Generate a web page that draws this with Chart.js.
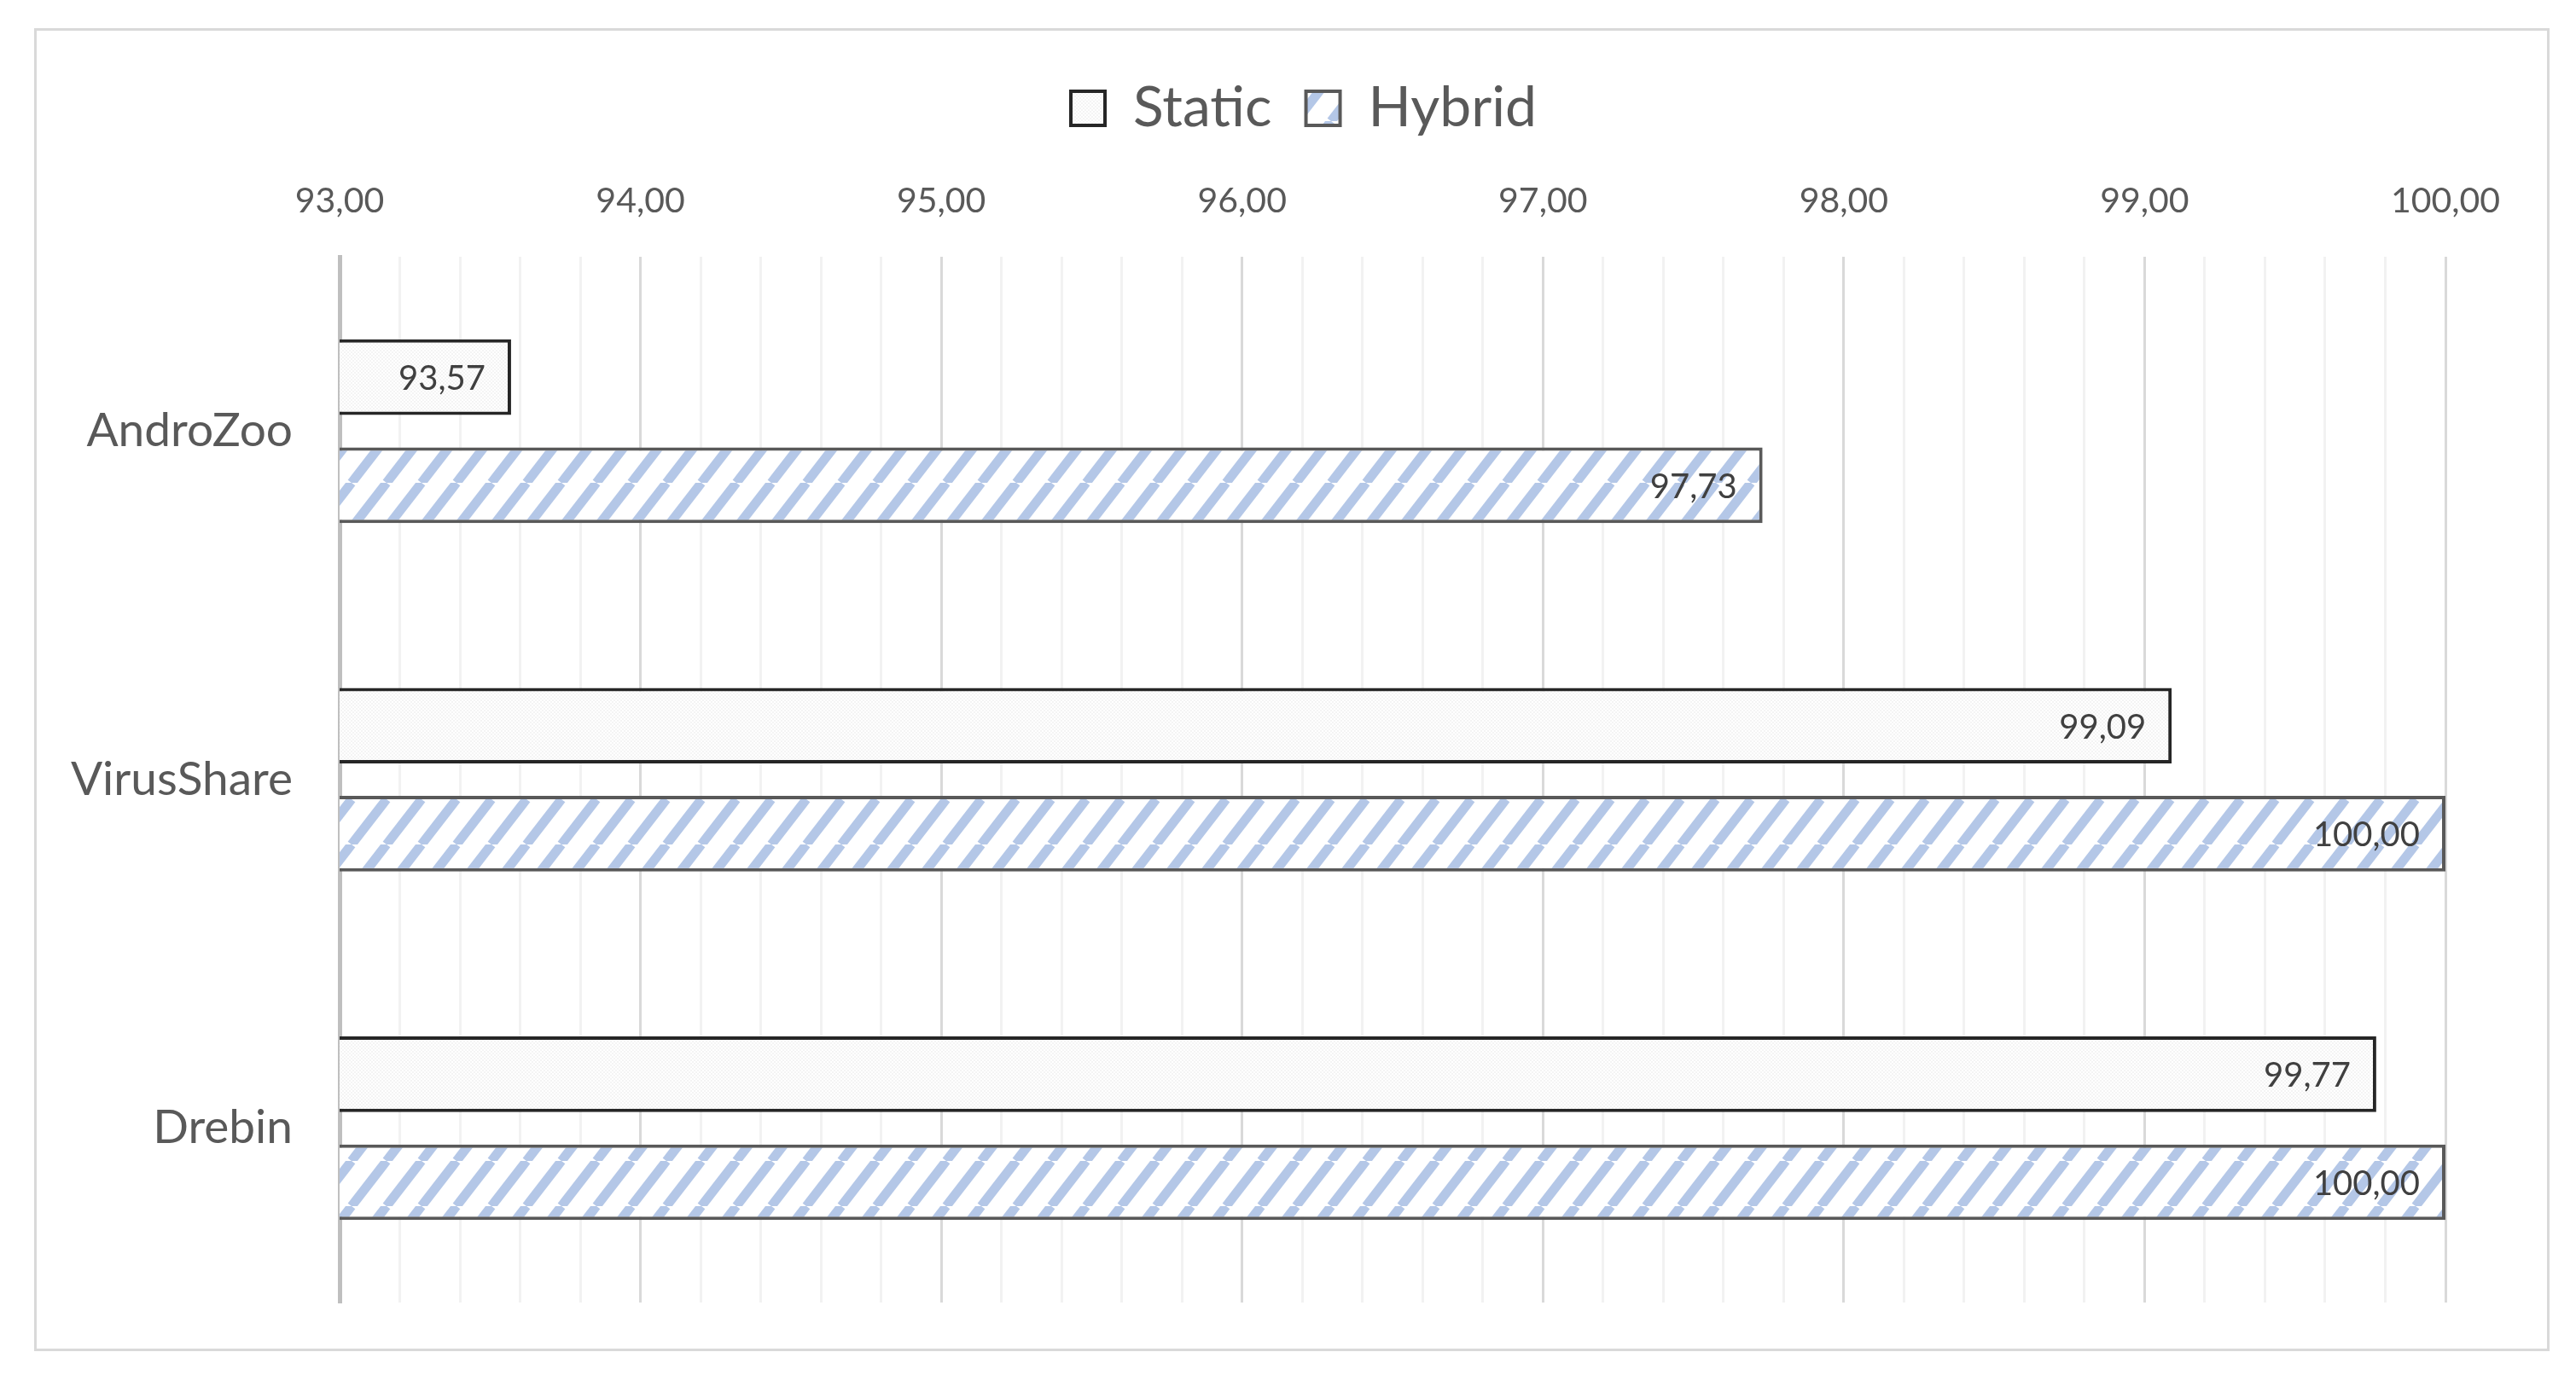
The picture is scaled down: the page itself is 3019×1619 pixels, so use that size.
<!DOCTYPE html>
<html>
<head>
<meta charset="utf-8">
<script src="https://cdn.jsdelivr.net/npm/chart.js@4"></script>
<style>
  html, body { margin: 0; padding: 0; background: #fff; }
  #frame {
    position: absolute;
    left: 40px; top: 33px;
    width: 2948px; height: 1551px;
    border: 3px solid #d9d9d9;
    box-sizing: border-box;
  }
</style>
</head>
<body>
<div id="frame"><canvas id="chart" width="2942" height="1545"></canvas></div>
<script>
const categories = ['AndroZoo', 'VirusShare', 'Drebin'];
const staticValues = [93.57, 99.09, 99.77];
const hybridValues = [97.73, 100.00, 100.00];
const axisMin = 93;
const axisMax = 100;

const fmt = v => v.toFixed(2).replace('.', ',');

const ctx = document.getElementById('chart');
const g = ctx.getContext('2d');

// light dotted fill for Static
function dots() {
  const c = document.createElement('canvas');
  c.width = 4; c.height = 4;
  const t = c.getContext('2d');
  t.fillStyle = '#ffffff';
  t.fillRect(0, 0, 4, 4);
  t.fillStyle = '#f4f4f4';
  t.fillRect(0, 0, 2, 2);
  t.fillRect(2, 2, 2, 2);
  return g.createPattern(c, 'repeat');
}

// upward diagonal stripes for Hybrid
function stripes() {
  const w = 41, h = 53;
  const c = document.createElement('canvas');
  c.width = w; c.height = h;
  const t = c.getContext('2d');
  t.fillStyle = '#ffffff';
  t.fillRect(0, 0, w, h);
  t.strokeStyle = '#b4c7e7';
  t.lineWidth = 11;
  for (const dx of [-w, 0, w]) {
    t.beginPath();
    t.moveTo(dx, h);
    t.lineTo(dx + w, 0);
    t.stroke();
  }
  return g.createPattern(c, 'repeat');
}

const isMajor = v => Math.abs(v - Math.round(v)) < 1e-6;

const barLabels = {
  id: 'barLabels',
  afterDatasetsDraw(chart) {
    const c = chart.ctx;
    c.save();
    c.font = '40px Lato';
    c.fillStyle = '#404040';
    c.textAlign = 'right';
    c.textBaseline = 'middle';
    chart.data.datasets.forEach((ds, i) => {
      chart.getDatasetMeta(i).data.forEach((bar, j) => {
        c.fillText(fmt(ds.data[j]), bar.x - 30, bar.y + 2);
      });
    });
    c.restore();
  }
};

// nudge the legend a little to the right, like the original
const legendShift = {
  id: 'legendShift',
  afterLayout(chart) {
    chart.legend.left += 14;
    chart.legend.right += 14;
  }
};

Chart.defaults.font.family = 'Lato';
Chart.defaults.color = '#595959';

new Chart(ctx, {
  type: 'bar',
  data: {
    labels: categories,
    datasets: [{
      label: 'Static',
      data: staticValues,
      backgroundColor: dots(),
      borderColor: '#262626',
      borderWidth: 4,
      categoryPercentage: 0.62,
      barPercentage: 0.7
    }, {
      label: 'Hybrid',
      data: hybridValues,
      backgroundColor: stripes(),
      borderColor: '#595959',
      borderWidth: 4,
      categoryPercentage: 0.62,
      barPercentage: 0.7
    }]
  },
  options: {
    indexAxis: 'y',
    responsive: false,
    animation: false,
    layout: {
      padding: { top: 18, right: 0, bottom: 54, left: 0 }
    },
    scales: {
      x: {
        position: 'top',
        min: axisMin,
        max: axisMax,
        ticks: {
          stepSize: 0.2,
          autoSkip: false,
          maxRotation: 0,
          padding: 41,
          font: { size: 41 },
          color: '#595959',
          callback: v => isMajor(v) ? fmt(v) : ''
        },
        grid: {
          drawTicks: false,
          lineWidth: 3,
          color: c => isMajor(c.tick.value) ? '#d9d9d9' : '#f2f2f2'
        },
        border: { display: false },
        afterFit: scale => { scale.paddingRight = 119; }
      },
      y: {
        grid: { display: false, drawTicks: false },
        border: { color: '#bfbfbf', width: 5 },
        ticks: {
          padding: 55,
          font: { size: 55 },
          color: '#595959'
        },
        afterFit: scale => {
          scale.width = 355;
          scale.paddingTop = 0;
          scale.paddingBottom = 0;
        }
      }
    },
    plugins: {
      legend: {
        position: 'top',
        labels: {
          boxWidth: 40,
          boxHeight: 40,
          padding: 40,
          font: { size: 66 },
          color: '#595959'
        }
      },
      tooltip: { enabled: false }
    }
  },
  plugins: [barLabels, legendShift]
});
</script>
</body>
</html>
